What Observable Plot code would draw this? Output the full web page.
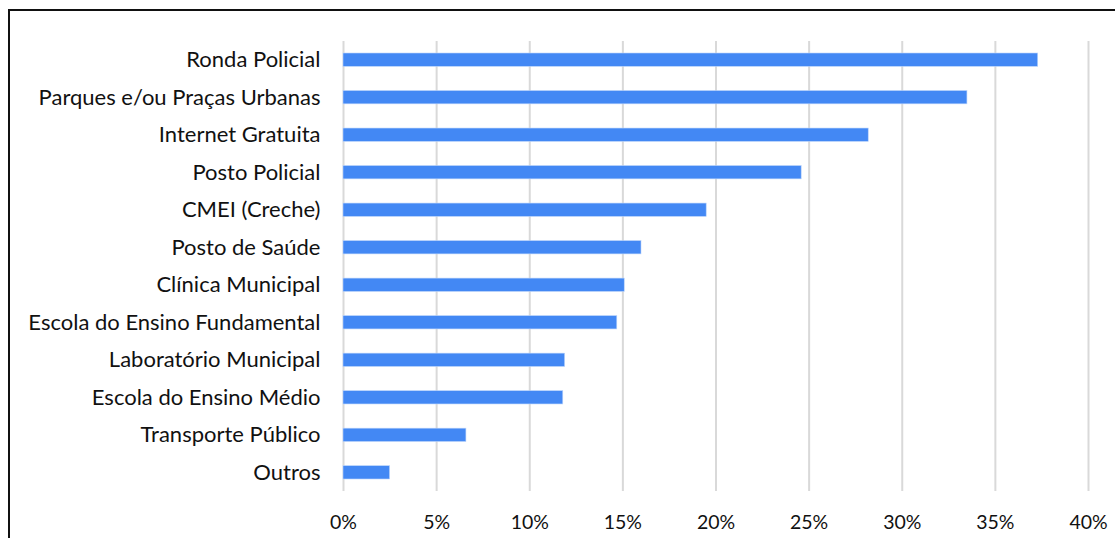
<!DOCTYPE html>
<html>
<head>
<meta charset="utf-8">
<script src="https://cdn.jsdelivr.net/npm/d3@7"></script>
<script src="https://cdn.jsdelivr.net/npm/@observablehq/plot@0.6"></script>
<style>
  html, body { margin: 0; padding: 0; background: #fff; overflow: hidden; width: 1115px; height: 538px; }
  #frame { position: absolute; left: 8px; top: 9px; width: 1200px; height: 700px; border: 2px solid #111; }
  #chart { position: absolute; left: 0; top: 0; }
  #chart text { fill: #111; }
</style>
</head>
<body>
<div id="frame"></div>
<div id="chart"></div>
<script>
const categories = [
  "Ronda Policial",
  "Parques e/ou Praças Urbanas",
  "Internet Gratuita",
  "Posto Policial",
  "CMEI (Creche)",
  "Posto de Saúde",
  "Clínica Municipal",
  "Escola do Ensino Fundamental",
  "Laboratório Municipal",
  "Escola do Ensino Médio",
  "Transporte Público",
  "Outros"
];
const values = [0.373, 0.335, 0.282, 0.246, 0.195, 0.160, 0.151, 0.147, 0.119, 0.118, 0.066, 0.025];
const xTicks = [0, 0.05, 0.10, 0.15, 0.20, 0.25, 0.30, 0.35, 0.40];

const data = categories.map((c, i) => ({category: c, value: values[i]}));
const pct = d => Math.round(d * 100) + "%";

const chart = Plot.plot({
  width: 1115,
  height: 538,
  marginLeft: 343,
  marginRight: 27,
  marginTop: 41,
  marginBottom: 47,
  style: {fontFamily: "Lato, 'Open Sans', sans-serif", fontSize: "22px", background: "transparent"},
  x: {domain: [0, 0.40], ticks: xTicks, tickFormat: pct, label: null},
  y: {domain: categories, paddingInner: 0.645, paddingOuter: 0.32, round: false, label: null},
  marks: [
    Plot.ruleX(xTicks, {stroke: "#d9d9d9", strokeWidth: 2}),
    Plot.barX(data, {x: "value", y: "category", fill: "#4388f4", stroke: "#bcd4fb", strokeWidth: 0.6}),
    Plot.axisX({ticks: xTicks, tickSize: 0, tickPadding: 24, tickFormat: pct, label: null, fontSize: 19.5}),
    Plot.axisY({tickSize: 0, tickPadding: 23, label: null, fontSize: 22})
  ]
});
document.getElementById("chart").appendChild(chart);
</script>
</body>
</html>
